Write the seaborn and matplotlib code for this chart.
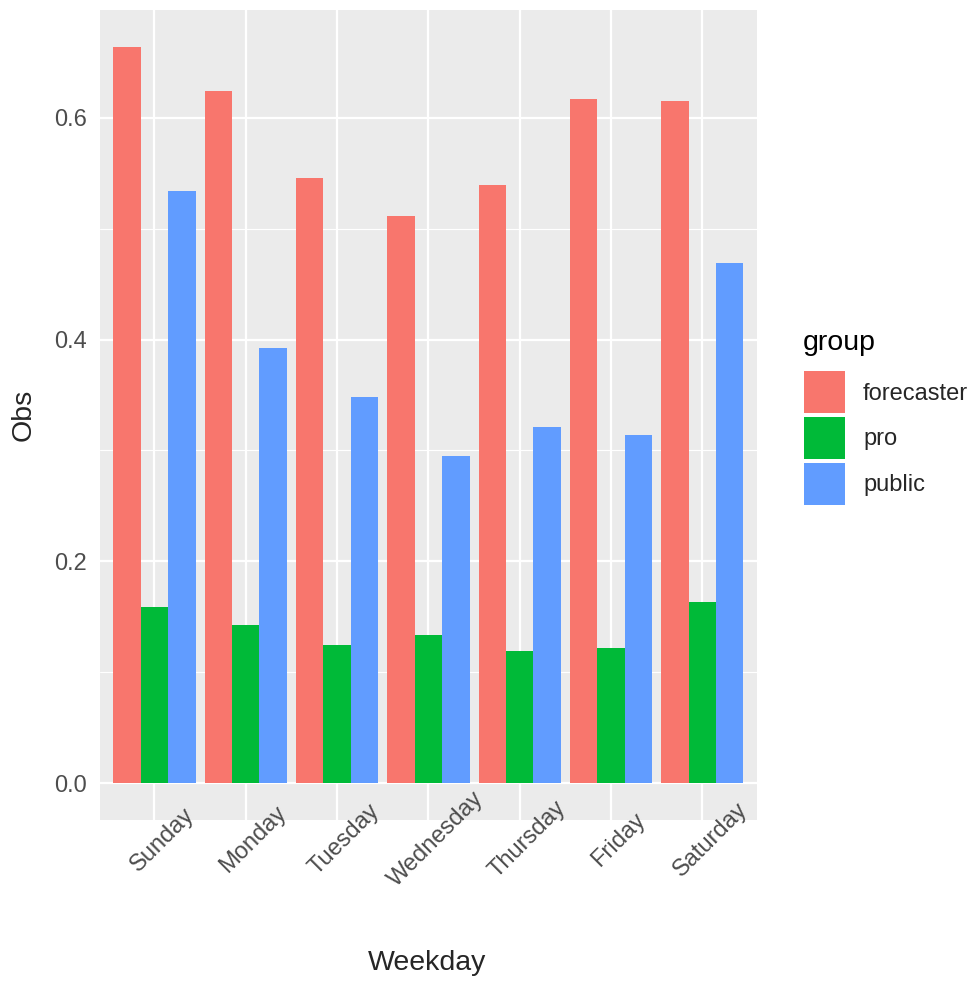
"""
Weekday observation share by group, ggplot-like grouped bars.
"""
import numpy as np
import pandas as pd
import matplotlib
matplotlib.use("Agg")
import matplotlib.pyplot as plt
from matplotlib.patches import Patch
import seaborn as sns

# ── data ───────────────────────────────────────────────────────────────────
weekdays    = ["Sunday", "Monday", "Tuesday", "Wednesday", "Thursday", "Friday", "Saturday"]
groups      = ["forecaster", "pro", "public"]
forecaster  = [0.664, 0.624, 0.546, 0.511, 0.539, 0.617, 0.615]
pro         = [0.159, 0.143, 0.125, 0.134, 0.119, 0.122, 0.163]
public      = [0.534, 0.392, 0.348, 0.295, 0.321, 0.314, 0.469]
colors      = ["#F8766D", "#00BA38", "#619CFF"]
y_ticks     = [0.0, 0.2, 0.4, 0.6]
y_minor     = [0.1, 0.3, 0.5]

df = pd.DataFrame({
    "Weekday": weekdays * 3,
    "group":   np.repeat(groups, len(weekdays)),
    "Obs":     forecaster + pro + public,
})

# ── style ──────────────────────────────────────────────────────────────────
sns.set_theme(style="darkgrid", rc={
    "axes.facecolor": "#EBEBEB",
    "grid.color": "white",
    "axes.edgecolor": "none",
})
plt.rcParams["font.family"] = ["Liberation Sans", "DejaVu Sans"]

fig = plt.figure(figsize=(9.77, 9.85), dpi=100)
ax = fig.add_axes([0.102, 0.1675, 0.673, 0.8225])

sns.barplot(data=df, x="Weekday", y="Obs", hue="group", order=weekdays,
            hue_order=groups, palette=colors, width=0.9, saturation=1,
            linewidth=0, ax=ax, legend=False)

ymax = max(forecaster)
ax.set_ylim(-0.05 * ymax, 1.05 * ymax)
ax.set_xlim(-0.6, len(weekdays) - 0.4)
ax.set_yticks(y_ticks)
ax.set_yticklabels([f"{t:.1f}" for t in y_ticks])
ax.set_yticks(y_minor, minor=True)
ax.grid(True, which="major", color="white", linewidth=1.6)
ax.grid(True, which="minor", axis="y", color="white", linewidth=0.8)
ax.set_axisbelow(True)
for s in ax.spines.values():
    s.set_visible(False)

ax.tick_params(axis="both", which="major", length=4, width=1.2,
               color="#333333", labelsize=17, labelcolor="#4D4D4D")
ax.tick_params(axis="y", which="major", pad=5)
ax.tick_params(axis="x", which="major", pad=4.5)
ax.tick_params(axis="y", which="minor", length=0)
plt.setp(ax.get_xticklabels(), rotation=45, ha="center", va="top",
         rotation_mode="anchor")

ax.set_xlabel("Weekday", fontsize=20.5)
ax.set_ylabel("Obs", fontsize=20.5)
ax.xaxis.label.set_va("center")
ax.yaxis.label.set_va("center")
ax.xaxis.set_label_coords(0.4985, -0.1765)
ax.yaxis.set_label_coords(-0.115, 0.5)

# legend: keys tight together, title as separate text like ggplot
handles = [Patch(facecolor=c, edgecolor="none", label=g) for g, c in zip(groups, colors)]
ax.legend(handles=handles, loc="center left", bbox_to_anchor=(0.8229, 0.5553),
          bbox_transform=fig.transFigure, frameon=False, fontsize=17,
          handlelength=1.74, handleheight=2.36, labelspacing=0.15,
          handletextpad=0.76, borderpad=0, borderaxespad=0)
fig.text(803 / 977, 1 - 350 / 985, "group", fontsize=20.5, ha="left",
         va="baseline", color="black")

fig.savefig("out.png", dpi=100)
